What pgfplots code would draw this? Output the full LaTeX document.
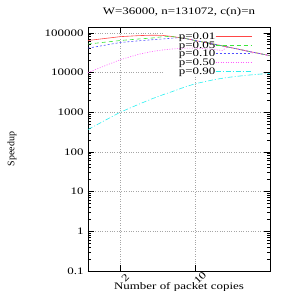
\documentclass[border=0pt]{standalone}
\usepackage{fontspec}
\setmainfont{Liberation Serif}[FakeStretch=1.3]
\newfontfamily\ylfont{Liberation Serif}
\usepackage{pgfplots}
\pgfplotsset{compat=1.18}
\definecolor{gpred}{RGB}{255,70,70}
\definecolor{gpgreen}{RGB}{60,230,60}
\definecolor{gpblue}{RGB}{80,80,255}
\definecolor{gpmag}{RGB}{255,90,255}
\definecolor{gpcyan}{RGB}{40,240,240}
\begin{document}
\begin{tikzpicture}[font=\fontsize{10}{11}\selectfont]
\path[use as bounding box] (-88bp,-20bp) rectangle (203bp,271bp);
\begin{axis}[
  at={(0,0)}, anchor=south west,
  scale only axis, width=182bp, height=244bp,
  xmode=log, ymode=log,
  xmin=1, xmax=50, ymin=0.1, ymax=140000,
  xtick={2,10}, xticklabels={2,10},
  ytick={0.1,1,10,100,1000,10000,100000},
  yticklabels={0.1,1,10,100,1000,10000,100000},
  minor xtick={},
  tick align=inside,
  major tick length=6bp, minor tick length=3bp,
  xtick pos=both, ytick pos=both,
  axis line style={line width=0.8pt},
  every tick/.style={black, line width=0.6pt},
  grid=major,
  major grid style={gray!70, dotted, line width=0.4pt},
  title={W=36000, n=131072, c(n)=n},
  title style={at={(0.5,1)}, anchor=center, yshift=9bp},
  xlabel={Number of packet copies},
  xlabel style={at={(axis description cs:0.5,0)}, anchor=center, yshift=-16.5bp},
  ylabel={\ylfont Speedup},
  ylabel style={at={(axis description cs:-0.4176,0.5)}, anchor=center},
  xticklabel style={xshift=5bp, yshift=-7bp, rotate=45, anchor=center},
  yticklabel style={xshift=-1bp},
  legend style={draw=none, fill=none, at={(rel axis cs:0.918,0.984)}, anchor=north east,
    nodes={inner sep=0pt, text height=6.5bp, text depth=0bp}, row sep=2.2bp,
    /tikz/every even column/.append style={column sep=2bp}},
  legend plot pos=right,
  legend cell align=right,
  legend image code/.code={\draw[#1] (0bp,0bp) -- (36bp,0bp);},
]
\fill[white] (rel axis cs:0.41,0.80) rectangle (rel axis cs:0.96,0.995);
\addplot[gpred, line width=0.6pt] coordinates {(1,64000)(2,80000)(3,85000)(4,87000)(5,86000)(6,81000)(8,72500)(10,64000)(12,58000)(15,52000)(20,44000)(25,39000)(30,35000)(40,30000)(50,26500)};
\addlegendentry{p=0.01}
\addplot[gpgreen, line width=0.6pt, dash pattern=on 4bp off 3bp] coordinates {(1,52000)(2,64000)(3,70000)(4,74000)(5,80000)(6,81000)(8,72500)(10,64000)(12,58000)(15,52000)(20,44000)(25,39000)(30,35000)(40,30000)(50,26500)};
\addlegendentry{p=0.05}
\addplot[gpblue, line width=0.6pt, dash pattern=on 2bp off 2bp] coordinates {(1,41000)(2,57000)(3,63000)(4,67000)(5,70000)(6,73000)(7,75000)(8,72500)(10,64000)(12,58000)(15,52000)(20,44000)(25,39000)(30,35000)(40,30000)(50,26500)};
\addlegendentry{p=0.10}
\addplot[gpmag, line width=0.6pt, dash pattern=on 1bp off 1.5bp] coordinates {(1,10000)(2,21000)(3,29000)(4,34000)(5,37000)(6,39000)(8,41000)(10,41000)(12,40000)(14,39000)(16,37000)(18,36000)(20,44000)(25,39000)(30,35000)(40,30000)(50,26500)};
\addlegendentry{p=0.50}
\addplot[gpcyan, line width=0.6pt, dash pattern=on 5bp off 2bp on 1bp off 2bp] coordinates {(1,366)(2,1000)(3,1600)(4,2200)(5,2750)(6,3250)(8,4300)(10,5200)(15,6600)(20,7500)(30,8500)(40,9100)(50,9500)};
\addlegendentry{p=0.90}
\end{axis}
\end{tikzpicture}
\end{document}
